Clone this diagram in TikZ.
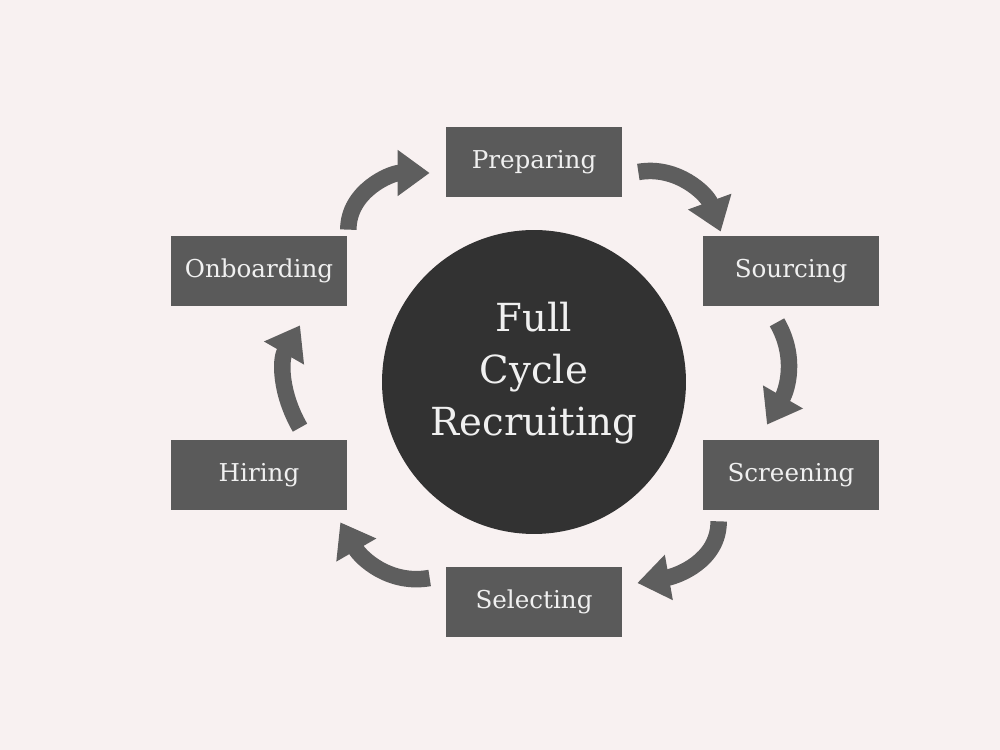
\documentclass[tikz,border=0pt]{standalone}
\usepackage{fontspec}
\setmainfont{DejaVu Serif}
\usetikzlibrary{arrows.meta}
\definecolor{bgpink}{HTML}{F8F1F1}
\definecolor{boxgray}{HTML}{5A5A5A}
\definecolor{hubgray}{HTML}{323232}
\definecolor{arrgray}{HTML}{5E5E5E}

\begin{document}
\begin{tikzpicture}[x=0.02cm,y=0.02cm,
    stage/.style={fill=boxgray,text=white!94!black,minimum width=3.52cm,minimum height=1.4cm,inner sep=0pt,
      font=\fontsize{14}{17}\selectfont},
    hub/.style={circle,fill=hubgray,minimum size=6.08cm,inner sep=0pt},
    hubtext/.style={text=white!94!black,align=center,inner sep=0pt,font=\fontsize{22}{29.5}\selectfont},
    cyc/.style={draw=arrgray,line width=0.33cm,-{Triangle[width=0.88cm,length=0.64cm]}}]
    \fill [bgpink] (0,0) rectangle (1000,750);
    \useasboundingbox (0,0) rectangle (1000,750);
    % centre
    \node [hub] (hub) at (534,368) {};
    \node [hubtext] (title) at ([shift={(0,9)}]hub.center) {Full\\Cycle\\Recruiting};
    % stages
    \node [stage] (prep) at (534,588) {Preparing};
    \node [stage] (sour) at (791,479) {Sourcing};
    \node [stage] (scre) at (791,275) {Screening};
    \node [stage] (sele) at (534,148) {Selecting};
    \node [stage] (hiri) at (259,275) {Hiring};
    \node [stage] (onbo) at (259,479) {Onboarding};
    % arrows round the cycle
    \draw [cyc] ([shift={(1,6)}]onbo.north east) to[out=90,in=180] ([shift={(-16,-11)}]prep.west);
    \draw [cyc] ([shift={(16,-10)}]prep.east) to[out=10,in=110] ([shift={(18,4)}]sour.north west);
    \draw [cyc] ([shift={(-14,-16)}]sour.south) to[out=-60,in=60] ([shift={(-24,15)}]scre.north);
    \draw [cyc] ([shift={(16,-11)}]scre.south west) to[out=-90,in=10] ([shift={(15,19)}]sele.east);
    \draw [cyc] ([shift={(-16,24)}]sele.west) to[out=190,in=-60] ([shift={(-7,-12)}]hiri.south east);
    \draw [cyc] ([shift={(41,12)}]hiri.north) to[out=120,in=-120] ([shift={(41,-19)}]onbo.south);
\end{tikzpicture}
\end{document}
